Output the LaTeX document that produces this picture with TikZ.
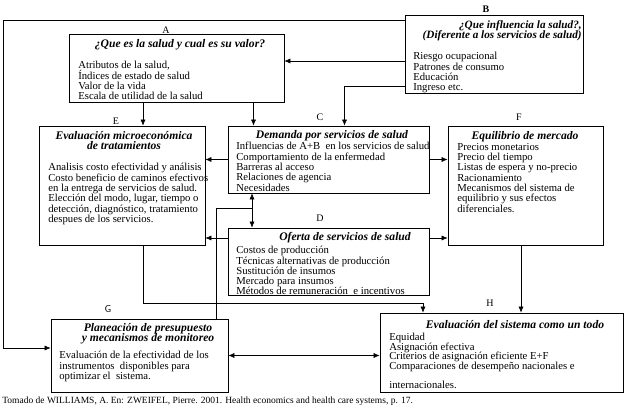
\documentclass[tikz,border=0pt]{standalone}
\usepackage{fontspec}
\setmainfont{Liberation Serif}
\usetikzlibrary{arrows.meta,calc}
\newcommand\tightlines{\lineskiplimit-5pt\relax}
\tikzset{
  box/.style={draw,line width=0.7pt,inner sep=0pt},
  head/.style={font=\fontsize{11.6}{10.5}\selectfont\tightlines\bfseries\itshape,inner sep=0pt,align=center},
  body/.style={font=\fontsize{10.7}{10.3}\selectfont\tightlines,inner sep=0pt,anchor=north west,align=left},
  tag/.style={font=\fontsize{10}{10}\selectfont,inner sep=0pt}
}
\begin{document}
\begin{tikzpicture}[x=1pt,y=-1pt,>={Latex[length=6pt,width=5pt]},line width=0.6pt]
\useasboundingbox (0,0) rectangle (640,406);
% boxes
\node[box,minimum width=215pt,minimum height=68pt] (A) at (176.5,68) {};
\node[box,minimum width=178pt,minimum height=78pt] (B) at (494,54) {};
\node[box,minimum width=201pt,minimum height=67pt] (C) at (328.5,159.5) {};
\node[box,minimum width=201pt,minimum height=67pt] (D) at (328.5,261.5) {};
\node[box,minimum width=166pt,minimum height=119pt] (E) at (122,185.5) {};
\node[box,minimum width=155pt,minimum height=119pt] (F) at (525.5,185.5) {};
\node[box,minimum width=177pt,minimum height=73pt] (G) at (139.5,355.5) {};
\node[box,minimum width=243pt,minimum height=79pt] (H) at (501.5,352.5) {};
% letters
\node[tag] (tA) at (166,30) {A};
\node[tag,font=\fontsize{10}{10}\selectfont\bfseries] (tB) at (486,9) {B};
\node[tag] (tC) at (320,117) {C};
\node[tag] (tD) at (320,218) {D};
\node[tag] (tE) at (116,121) {E};
\node[tag] (tF) at (519,117) {F};
\node[tag,font=\fontsize{10}{10}\sffamily] (tG) at (108,309) {G};
\node[tag] (tH) at (490,303) {H};
% titles
\node[head] (hA) at (180,45) {¿Que es la salud y cual es su valor?};
\node[head,font=\fontsize{11.2}{10}\selectfont\tightlines\bfseries\itshape,anchor=north east,align=right] (hB) at (582,20) {¿Que influencia la salud?,\\(Diferente a los servicios de salud)};
\node[head] (hC) at (332,136) {Demanda por servicios de salud};
\node[head] (hD) at (345,238) {Oferta de servicios de salud};
\node[head,anchor=north] (hE) at (124,131) {Evaluación microeconómica\\de tratamientos};
\node[head] (hF) at (525,137) {Equilibrio de mercado};
\node[head,anchor=north] (hG) at (148,323) {Planeación de presupuesto\\y mecanismos de monitoreo};
\node[head] (hH) at (515,325) {Evaluación del sistema como un todo};
% contents
\node[body] (bA) at (78,61) {Atributos de la salud,\\Índices de estado de salud\\Valor de la vida\\Escala de utilidad de la salud};
\node[body] (bB) at (413,52) {Riesgo ocupacional\\Patrones de consumo\\Educación\\Ingreso etc.};
\node[body] (bC) at (236,142) {Influencias de A+B\ \ en los servicios de salud\\Comportamiento de la enfermedad\\Barreras al acceso\\Relaciones de agencia\\Necesidades};
\node[body] (bD) at (236,246) {Costos de producción\\Técnicas alternativas de producción\\Sustitución de insumos\\Mercado para insumos\\Métodos de remuneración\ \ e incentivos};
\node[body] (bE) at (48,163) {Analisis costo efectividad y análisis\\Costo beneficio de caminos efectivos\\en la entrega de servicios de salud.\\Elección del modo, lugar, tiempo o\\detección, diagnóstico, tratamiento\\despues de los servicios.};
\node[body] (bF) at (457,143) {Precios monetarios\\Precio del tiempo\\Listas de espera y no-precio\\Racionamiento\\Mecanismos del sistema de\\equilibrio y sus efectos\\diferenciales.};
\node[body] (bG) at (59,351) {Evaluación de la efectividad de los\\instrumentos\ \ disponibles para\\optimizar el\ \ sistema.};
\node[body,font=\fontsize{10.7}{9.6}\selectfont\tightlines] (bH) at (389,333) {Equidad\\Asignación efectiva\\Criterios de asignación eficiente E+F\\Comparaciones de desempeño nacionales e\\[9.6pt]internacionales.};
% source line
\node[font=\fontsize{9.5}{9.5}\selectfont,anchor=base west,inner sep=0pt] (src) at (2,403.5) {Tomado de WILLIAMS, A. En: ZWEIFEL, Pierre. 2001. Health economics and health care systems, p. 17.};
% connectors
\coordinate (rim) at (3,20);
\coordinate (ba) at ([yshift=7pt]A.east);
\coordinate (ae) at ([xshift=21pt]E.north);
\coordinate (ac) at ([xshift=-75pt]C.north);
\coordinate (bc) at ([xshift=16pt]C.north);
\coordinate (cd) at ([xshift=-76.5pt]C.south);
\coordinate (cdm) at ($(C.south)!0.43!(D.north)+(-76.5pt,0)$);
\coordinate (de) at ([yshift=23.5pt]D.west);
\coordinate (df) at ([yshift=23.5pt]D.east);
\coordinate (eh) at ([xshift=-78.5pt]H.north);
\coordinate (fh) at ([xshift=-4.5pt]F.south);
\coordinate (gc) at ([xshift=76.5pt]G.north);
\draw[->] (B.west |- ba) -- (ba);
\draw[->] ([yshift=-32pt]B.west) -| (bc);
\draw[->] ([yshift=34pt]B.west) -- (rim) |- ([yshift=7.5pt]G.west);
\draw[->] (A.south -| ae) -- (ae);
\draw[->] (A.south -| ac) -- (ac);
\draw[->] (C.west) -- (E.east |- C.west);
\draw[->] (C.east) -- (F.west |- C.east);
\draw[->] (de) -- (E.east |- de);
\draw[->] (df) -- (F.west |- df);
\draw[<->] (cd) -- (D.north -| cd);
\draw (gc) |- (cdm);
\draw[->] (E.south -| ae) -- ++(0,58) -| (eh);
\draw[->] (fh) -- (H.north -| fh);
\draw[<->] (G.east) -- (H.west |- G.east);
\end{tikzpicture}
\end{document}
